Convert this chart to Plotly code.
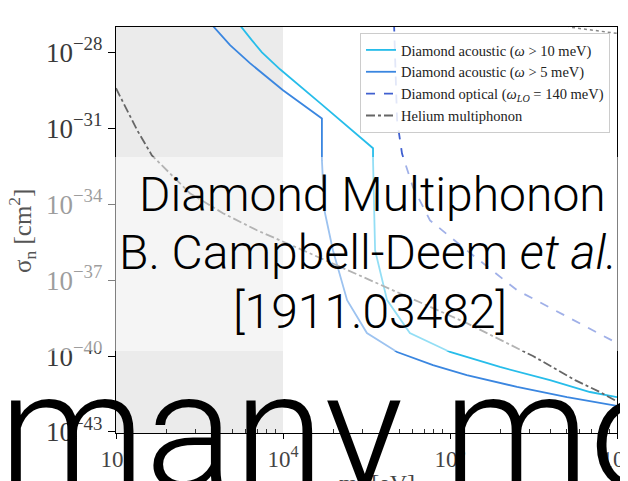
import plotly.graph_objects as go

# ---------------- data ----------------
# Diamond acoustic (omega > 10 meV)
m_ac10 = [5.24e3, 5.67e3, 6.52e3, 7.48e3, 8.59e3, 9.6e3, 1.67e4, 3.46e4, 3.46e4, 3.51e4, 3.56e4, 4.20e4,
          5.75e4, 1.00e5, 1.99e5, 3.97e5, 6.89e5, 1.00e6]
s_ac10 = [1.82e-27, 9.8e-28, 2.95e-28, 1.0e-28, 4.05e-29, 2.13e-29, 9.8e-31, 1.62e-32, 5.5e-33, 1.45e-34,
          1.51e-36, 1.62e-38, 8.13e-40, 1.45e-40, 3.7e-41, 1.12e-41, 3.8e-42, 2.4e-42]

# Diamond acoustic (omega > 5 meV)
m_ac5 = [3.56e3, 3.86e3, 4.82e3, 6.34e3, 1.00e4, 1.71e4, 1.71e4, 1.77e4, 1.99e4, 2.42e4,
         3.18e4, 4.82e4, 7.91e4, 1.26e5, 2.52e5, 5.02e5, 1.00e6]
s_ac5 = [1.8e-27, 9.8e-28, 1.91e-28, 3.72e-29, 3.16e-30, 2.45e-31, 5.5e-33, 5.75e-35, 1.51e-36, 1.62e-38,
         8.13e-40, 1.45e-40, 4.37e-41, 1.78e-41, 6.03e-42, 2.40e-42, 1.07e-42]

# Diamond optical (omega_LO = 140 meV)
m_opt = [4.62e4, 4.69e4, 4.82e4, 5.16e4, 6.0e4, 7.59e4, 1.26e5, 2.52e5, 5.02e5, 1.00e6]
s_opt = [1.5e-27, 4.8e-29, 2.1e-31, 1.0e-32, 4.7e-34, 2.3e-35, 1.5e-36, 4.0e-38, 3.5e-39, 3.25e-40]

# Helium multiphonon
m_he = [1.00e3, 1.34e3, 1.64e3, 2.77e3, 4.37e3, 6.98e3, 1.32e4, 1.26e5, 3.14e5, 5.61e5, 7.9e5, 1.00e6]
s_he = [3.8e-30, 8.3e-32, 8.5e-33, 2.7e-34, 4.4e-35, 9.3e-36, 1.5e-36, 2.0e-39, 1.0e-40, 1.12e-41, 3.8e-42, 1.6e-42]

# unlabeled dotted curve at top right
m_dot = [5.0e5, 5.24e5, 1.00e6]
s_dot = [1.2e-27, 9.8e-28, 5.6e-28]

x_tickvals = [1e3, 1e4, 1e5, 1e6]
x_ticktext = ["10<sup>3</sup>", "10<sup>4</sup>", "10<sup>5</sup>", "10<sup>6</sup>"]
y_tickvals = [1e-28, 1e-31, 1e-34, 1e-37, 1e-40, 1e-43]
y_ticktext = ["10<sup>−28</sup>", "10<sup>−31</sup>", "10<sup>−34</sup>",
              "10<sup>−37</sup>", "10<sup>−40</sup>", "10<sup>−43</sup>"]

# ---------------- layout helpers ----------------
W, H = 628, 481
OFF = 8  # page body margin in the browser
# desired plot area on screen: x 116..617, y 27..433
SL, SR, ST, SB = 116, 617, 27, 433
L = SL - OFF
T = ST - OFF
R = W - (SR - OFF)
B = H - (SB - OFF)
PW, PH = W - L - R, H - T - B


def px(xs):
    return (xs - OFF - L) / PW


def py(ys):
    return (H - B - (ys - OFF)) / PH


SERIF = "Liberation Serif"

fig = go.Figure()
fig.add_trace(go.Scatter(x=m_ac10, y=s_ac10, mode="lines", name="Diamond acoustic (<i>ω</i> > 10 meV)",
                         line=dict(color="#27bdea", width=1.8)))
fig.add_trace(go.Scatter(x=m_ac5, y=s_ac5, mode="lines", name="Diamond acoustic (<i>ω</i> > 5 meV)",
                         line=dict(color="#3a86e0", width=1.8)))
fig.add_trace(go.Scatter(x=m_opt, y=s_opt, mode="lines", name="Diamond optical (<i>ω<sub>LO</sub></i> = 140 meV)",
                         line=dict(color="#4060d0", width=1.8, dash="dash")))
fig.add_trace(go.Scatter(x=m_he, y=s_he, mode="lines", name="Helium multiphonon",
                         line=dict(color="#666666", width=1.8, dash="dashdot")))
fig.add_trace(go.Scatter(x=m_dot, y=s_dot, mode="lines", showlegend=False,
                         line=dict(color="#888888", width=1.5, dash="dot")))

minor_x = [k * 10 ** e for e in (3, 4, 5) for k in range(2, 10)]

fig.update_layout(
    width=W, height=H,
    margin=dict(l=L, r=R, t=T, b=B, autoexpand=False),
    paper_bgcolor="white", plot_bgcolor="white",
    font=dict(family=SERIF, color="#333333"),
    showlegend=True,
    legend=dict(x=px(610), y=py(33), xanchor="right", yanchor="top",
                bgcolor="rgba(255,255,255,0.85)", bordercolor="#cccccc", borderwidth=1,
                font=dict(family=SERIF, size=14.5, color="#222222"),
                tracegroupgap=0, itemwidth=30),
    xaxis=dict(type="log", range=[3, 6], showgrid=False, zeroline=False, automargin=False,
               showline=True, linecolor="black", linewidth=1.3, mirror=True,
               tickvals=x_tickvals, ticktext=x_ticktext, ticks="outside", ticklen=5,
               tickcolor="black", tickfont=dict(family=SERIF, size=23, color="#444444"),
               minor=dict(tickvals=minor_x, ticks="inside", ticklen=4, tickcolor="#333333")),
    yaxis=dict(type="log", range=[-43.04, -27], showgrid=False, zeroline=False, automargin=False,
               showline=True, linecolor="black", linewidth=1.3, mirror=True,
               tickvals=y_tickvals, ticktext=y_ticktext, ticks="outside", ticklen=7,
               tickcolor="black", tickfont=dict(family=SERIF, size=27, color="#3a3a3a")),
)

# grey excluded band 1e3-1e4 eV
fig.add_shape(type="rect", xref="x", yref="paper", x0=1e3, x1=1e4, y0=0, y1=1,
              fillcolor="#ebebeb", line=dict(width=0), layer="below")

# translucent white overlay box (slide element)
fig.add_shape(type="rect", xref="paper", yref="paper", x0=px(-10), x1=px(W + 20), y0=py(351), y1=py(157),
              fillcolor="rgba(255,255,255,0.5)", line=dict(width=0), layer="above")

ann = []
# axis titles
ann.append(dict(text="σ<sub>n</sub> [cm<sup>2</sup>]", x=px(22), y=py(231), xref="paper", yref="paper",
                showarrow=False, textangle=-90, font=dict(family=SERIF, size=25, color="#555555"),
                xanchor="center", yanchor="middle"))
ann.append(dict(text="m<sub>χ</sub> [eV]", x=px(377), y=py(485), xref="paper", yref="paper",
                showarrow=False, font=dict(family=SERIF, size=24, color="#444444"),
                xanchor="center", yanchor="middle"))
ann.append(dict(text="m<sub>χ</sub> [keV]", x=px(350), y=py(-6), xref="paper", yref="paper",
                showarrow=False, font=dict(family=SERIF, size=22, color="#999999"),
                xanchor="center", yanchor="middle"))

TITLE_FONT = dict(family="Roboto", size=48, color="black", weight=300)
ann.append(dict(text="Diamond Multiphonon", x=px(372), y=py(194), xref="paper", yref="paper",
                showarrow=False, font=TITLE_FONT, xanchor="center", yanchor="middle"))
ann.append(dict(text="B. Campbell-Deem <i>et al.</i>", x=px(368), y=py(252), xref="paper", yref="paper",
                showarrow=False, font=TITLE_FONT, xanchor="center", yanchor="middle"))
ann.append(dict(text="[1911.03482]", x=px(370), y=py(311), xref="paper", yref="paper",
                showarrow=False, font=TITLE_FONT, xanchor="center", yanchor="middle"))

ann.append(dict(text="many mo", x=px(-3), y=py(431), xref="paper", yref="paper",
                showarrow=False, font=dict(family="Roboto", size=165, color="black", weight=300),
                xanchor="left", yanchor="middle"))

fig.update_layout(annotations=ann)

fig.write_html("out.html")
